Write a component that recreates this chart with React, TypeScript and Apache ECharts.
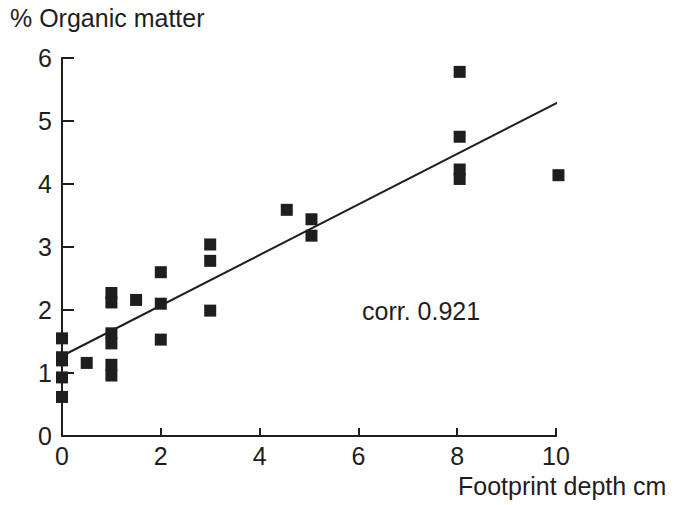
import React, { useEffect, useRef } from "react";
import * as echarts from "echarts";

const depthCm: number[] = [0, 0, 0, 0, 0, 0.5, 1, 1, 1, 1, 1, 1, 1.5, 2, 2, 2, 3, 3, 3, 4.55, 5.05, 5.05, 8.05, 8.05, 8.05, 8.05, 10.05];
const organicPct: number[] = [1.55, 1.25, 1.2, 0.93, 0.62, 1.16, 2.27, 2.12, 1.63, 1.47, 1.13, 0.96, 2.16, 2.6, 2.1, 1.53, 3.04, 2.78, 1.99, 3.59, 3.44, 3.18, 5.78, 4.75, 4.23, 4.08, 4.14];
const fitX: number[] = [0, 10.05];
const fitY: number[] = [1.27, 5.3];
const xTicks: number[] = [0, 2, 4, 6, 8, 10];
const yTicks: number[] = [0, 1, 2, 3, 4, 5, 6];
const yTitle = "% Organic matter";
const xTitle = "Footprint depth cm";
const corrText = "corr. 0.921";

const FONT = "'Liberation Sans', Arial, Helvetica, sans-serif";
const INK = "#1e1e1e";

export default function App() {
  const ref = useRef<HTMLDivElement>(null);
  useEffect(() => {
    if (!ref.current) return;
    const chart = echarts.init(ref.current, null, { renderer: "svg" });
    const points = depthCm.map((x, i) => [x, organicPct[i]]);
    const line = fitX.map((x, i) => [x, fitY[i]]);
    chart.setOption({
      animation: false,
      backgroundColor: "#ffffff",
      grid: { left: 62, top: 58, right: 124, bottom: 69, containLabel: false },
      xAxis: {
        type: "value",
        min: xTicks[0],
        max: xTicks[xTicks.length - 1],
        interval: 2,
        splitLine: { show: false },
        axisLine: { show: true, onZero: false, lineStyle: { color: INK, width: 2 } },
        axisTick: { show: true, inside: true, length: 8, lineStyle: { color: INK, width: 2 } },
        axisLabel: { color: INK, fontSize: 25, fontFamily: FONT, margin: 7 },
      },
      yAxis: {
        type: "value",
        min: yTicks[0],
        max: yTicks[yTicks.length - 1],
        interval: 1,
        splitLine: { show: false },
        axisLine: { show: true, onZero: false, lineStyle: { color: INK, width: 2 } },
        axisTick: { show: true, inside: true, length: 12, lineStyle: { color: INK, width: 2 } },
        axisLabel: { color: INK, fontSize: 25, fontFamily: FONT, margin: 10 },
      },
      series: [
        {
          type: "line",
          data: line,
          symbol: "none",
          clip: false,
          lineStyle: { color: INK, width: 2 },
          z: 2,
        },
        {
          type: "scatter",
          data: points,
          symbol: "rect",
          symbolSize: 12,
          clip: false,
          itemStyle: { color: INK, opacity: 1 },
          z: 3,
        },
      ],
      graphic: [
        {
          type: "text",
          left: 10,
          top: 5,
          style: { text: yTitle, fill: INK, font: `25px ${FONT}` },
        },
        {
          type: "text",
          left: 458,
          top: 473,
          style: { text: xTitle, fill: INK, font: `25px ${FONT}` },
        },
        {
          type: "text",
          left: 362,
          top: 298,
          style: { text: corrText, fill: INK, font: `25px ${FONT}` },
        },
      ],
    });
    return () => chart.dispose();
  }, []);
  return <div ref={ref} style={{ width: 680, height: 505, position: "absolute", left: 0, top: 0 }} />;
}
